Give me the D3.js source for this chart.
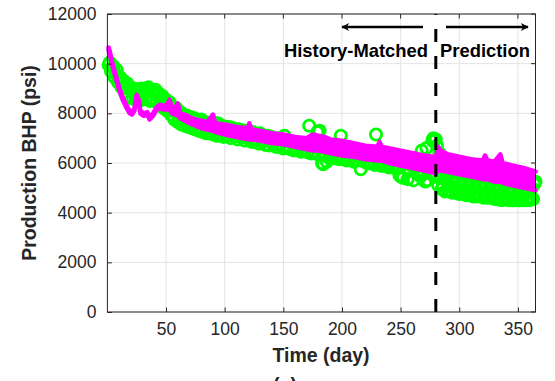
<!DOCTYPE html>
<html>
<head>
<meta charset="utf-8">
<script src="https://cdn.jsdelivr.net/npm/d3@7"></script>
<style>
  html, body { margin: 0; padding: 0; background: #fff; }
  svg { display: block; }
  text { font-family: "Liberation Sans", Arial, sans-serif; fill: #262626; }
</style>
</head>
<body>
<svg id="chart" width="555" height="381"></svg>
<script>
// ---------- data ----------
const xTicks = [50, 100, 150, 200, 250, 300, 350];
const yTicks = [0, 2000, 4000, 6000, 8000, 10000, 12000];
const splitDay = 280;

// observed BHP (green circles), three interleaved day sets
const obsDaysA = [1,4,7,10,13,16,19,22,25,28,31,34,37,40,43,46,49,52,55,58,61,64,67,70,73,76,79,82,85,88,91,94,97,100,
  103,106,109,112,115,118,121,124,127,130,133,136,139,142,145,148,151,154,157,160,163,166,169,172,175,178,181,184,187,190,
  193,196,199,202,205,208,211,214,217,220,223,226,229,232,235,238,241,244,247,250,253,256,259,262,265,268,271,274,277,280,
  283,286,289,292,295,298,301,304,307,310,313,316,319,322,325,328,331,334,337,340,343,346,349,352,355,358,361,364];
const obsBHPA = [9950,9850,9600,9400,9250,9050,8950,8800,8650,8900,8750,8950,8600,8850,8700,8500,8550,8250,8100,8200,7800,7700,7900,7650,7500,7750,7450,7650,7400,7550,7350,7600,7300,7450,
  7250,7400,7200,7350,7100,7300,7050,7250,6950,7200,6900,7050,6850,7000,6750,6950,7100,6700,6850,6600,6750,6550,6700,7500,6450,6650,7300,5950,6050,6550,
  6350,6250,7100,6500,6200,6400,6100,6350,6150,6300,6050,6250,7150,6200,6000,6150,5950,6100,5850,5450,6000,5350,5900,6050,5550,6500,5250,5900,6900,6950,
  6400,5100,5300,5050,5250,4950,5150,4900,5100,4850,5050,4800,5000,4750,4950,4700,4900,4650,4850,4600,4800,4500,4750,4500,4700,4550,4600,5150];

const obsDaysB = [2,5,8,11,14,17,20,23,26,29,32,35,38,41,44,47,50,53,56,59,62,65,68,71,74,77,80,83,86,89,92,95,98,101,
  104,107,110,113,116,119,122,125,128,131,134,137,140,143,146,149,152,155,158,161,164,167,170,173,176,179,182,185,188,191,
  194,197,200,203,206,209,212,215,218,221,224,227,230,233,236,239,242,245,248,251,254,257,260,263,266,269,272,275,278,281,
  284,287,290,293,296,299,302,305,308,311,314,317,320,323,326,329,332,335,338,341,344,347,350,353,356,359,362,365];
const obsBHPB = [10050,9900,9750,9450,9300,9200,8950,9000,8900,9000,8950,9050,8900,8950,8800,8700,8550,8450,8250,8200,8050,7950,7900,7850,7800,7700,7750,7650,7600,7550,7600,7500,7500,7450,
  7450,7400,7350,7350,7300,7250,7250,7200,7150,7150,7100,7100,7050,7000,7000,6950,6900,6900,6850,6850,6800,6800,6750,6700,6700,7250,6650,6600,6600,6550,
  6550,6500,6500,6450,6450,6400,6400,6350,6350,6300,6300,6250,6250,6250,6200,6200,6150,6150,6100,6100,6050,6050,6000,6000,6000,5950,6600,5950,7000,6700,
  5450,5350,5300,5300,5250,5250,5200,5200,5150,5150,5100,5100,5050,5050,5000,5000,4950,4950,4950,4900,4900,4900,4850,4850,4900,4950,5000,5250];

const obsDaysC = [3,6,9,12,15,18,21,24,27,30,33,36,39,42,45,48,51,54,57,60,63,66,69,72,75,78,81,84,87,90,93,96,99,102,
  105,108,111,114,117,120,123,126,129,132,135,138,141,144,147,150,153,156,159,162,165,168,171,174,177,180,183,186,189,192,
  195,198,201,204,207,210,213,216,219,222,225,228,231,234,237,240,243,246,249,252,255,258,261,264,267,270,273,276,279,282,
  285,288,291,294,297,300,303,306,309,312,315,318,321,324,327,330,333,336,339,342,345,348,351,354,357,360,363];
const obsBHPC = [9700,9450,9250,9050,8850,8700,8600,8550,8500,8550,8600,8500,8500,8450,8350,8200,8100,7950,7750,7650,7550,7500,7450,7400,7350,7300,7250,7200,7200,7150,7100,7100,7050,7100,
  7000,7080,6950,7020,6900,6980,6850,6880,6780,6850,6720,6700,6760,6640,6700,6580,6620,6550,6500,6580,6450,6500,6420,6380,6450,6330,6000,6300,6200,6280,
  6180,6150,6220,6100,6150,6050,6100,5750,6050,5980,6020,5920,5950,5880,5900,5820,5850,5780,5500,5400,5750,5700,5300,5650,5450,5600,5300,5550,5450,5100,
  4950,4850,4850,4800,4800,4750,4750,4700,4700,4650,4650,4650,4600,4600,4600,4550,4550,4500,4550,4500,4500,4500,4500,4500,4500,4500,4550];

// simulated BHP (magenta band): upper and lower envelopes
const simDays  = [1,2,4,7,10,13,16,19,21,23,25,27,28,31,34,36,39,42,45,48,51,53,55,58,60,62,66,70,75,80,85,90,92,100,110,120,121,123,130,140,150,160,170,175,180,185,190,200,210,220,230,232,234,240,250,260,270,278,280,282,284,290,300,310,320,322,324,330,335,337,345,355,365];
const simUpper = [10650,10500,10050,9550,9050,8650,8350,8100,8050,8200,8750,8500,8100,8000,8050,7850,8000,8250,8350,8300,8350,8550,8200,8250,8400,8000,7950,7850,7750,7700,7650,7950,7600,7550,7450,7400,7600,7350,7300,7200,7150,7050,7000,7150,7100,7050,6950,6900,6800,6700,6650,6850,6650,6600,6500,6400,6300,6250,6200,6650,6500,6350,6250,6150,6100,6300,6100,6050,6350,6000,5900,5800,5650];
const simLower = [10550,10400,9950,9450,8950,8550,8250,8000,7950,8100,8650,8400,8000,7900,7950,7750,7900,8150,8200,8150,8150,8150,8000,7950,7900,7800,7700,7600,7500,7400,7350,7300,7250,7150,7050,6950,6950,6950,6900,6800,6750,6650,6550,6500,6500,6450,6400,6300,6250,6150,6100,6100,6100,6000,5900,5800,5700,5600,5550,5750,5700,5650,5550,5450,5350,5350,5350,5250,5250,5200,5100,5000,4900];

// ---------- layout ----------
const svg = d3.select("#chart");
const L = 107.4, R = 535.5, T = 14, B = 312;
const x = d3.scaleLinear().domain([0, 365]).range([L, R]);
const y = d3.scaleLinear().domain([0, 12000]).range([B, T]);
const axisColor = "#262626";

// grid
const grid = svg.append("g");
xTicks.forEach(t => grid.append("line").attr("x1", x(t)).attr("x2", x(t)).attr("y1", T).attr("y2", B)
  .attr("stroke", "#e3e3e3").attr("stroke-width", 1));
yTicks.forEach(t => grid.append("line").attr("x1", L).attr("x2", R).attr("y1", y(t)).attr("y2", y(t))
  .attr("stroke", "#e3e3e3").attr("stroke-width", 1));

// observed circles
const obsPts = [];
[[obsDaysA, obsBHPA], [obsDaysB, obsBHPB], [obsDaysC, obsBHPC]].forEach(([ds, vs]) =>
  ds.forEach((d, i) => obsPts.push({d, v: vs[i]})));
obsPts.sort((a, b) => a.d - b.d);
svg.append("g").selectAll("circle").data(obsPts).join("circle")
  .attr("cx", p => x(p.d)).attr("cy", p => y(p.v)).attr("r", 5.6)
  .attr("fill", "none").attr("stroke", "#00ff00").attr("stroke-width", 2.8);

// simulated band
const simPts = simDays.map((d, i) => ({d, hi: simUpper[i], lo: simLower[i]}));
svg.append("path").datum(simPts)
  .attr("d", d3.area().x(p => x(p.d)).y0(p => y(p.lo)).y1(p => y(p.hi)))
  .attr("fill", "#ff00ff");
["hi", "lo"].forEach(k => {
  svg.append("path").datum(simPts)
    .attr("d", d3.line().x(p => x(p.d)).y(p => y(p[k])))
    .attr("fill", "none").attr("stroke", "#ff00ff").attr("stroke-width", 4.5)
    .attr("stroke-linejoin", "round").attr("stroke-linecap", "round");
});

// dashed split line
svg.append("line").attr("x1", x(splitDay)).attr("x2", x(splitDay)).attr("y1", B).attr("y2", T)
  .attr("stroke", "#000").attr("stroke-width", 3).attr("stroke-dasharray", "13,14");

// axes box
svg.append("rect").attr("x", L).attr("y", T).attr("width", R - L).attr("height", B - T)
  .attr("fill", "none").attr("stroke", axisColor).attr("stroke-width", 1);

// axes ticks (inward)
const xAxisG = svg.append("g").attr("transform", `translate(0,${B})`)
  .call(d3.axisBottom(x).tickValues(xTicks).tickFormat(d3.format("d")).tickSizeInner(-4.5).tickSizeOuter(0).tickPadding(11));
const yAxisG = svg.append("g").attr("transform", `translate(${L},0)`)
  .call(d3.axisLeft(y).tickValues(yTicks).tickFormat(d3.format("d")).tickSizeInner(-4.5).tickSizeOuter(0).tickPadding(11));
[xAxisG, yAxisG].forEach(g => {
  g.select(".domain").remove();
  g.selectAll(".tick line").attr("stroke", axisColor);
  g.selectAll(".tick text").attr("fill", axisColor)
    .style("font-size", "17.5px").style("font-family", "'Liberation Sans', Arial, sans-serif");
});
// top and right ticks
xTicks.forEach(t => svg.append("line").attr("x1", x(t)).attr("x2", x(t)).attr("y1", T).attr("y2", T + 4.5)
  .attr("stroke", axisColor));
yTicks.forEach(t => svg.append("line").attr("x1", R).attr("x2", R - 4.5).attr("y1", y(t)).attr("y2", y(t))
  .attr("stroke", axisColor));

// axis labels
svg.append("text").attr("x", 321).attr("y", 362).attr("text-anchor", "middle")
  .style("font-size", "19.5px").style("font-weight", "bold").text("Time (day)");
svg.append("text").attr("transform", `translate(36,${(T + B) / 2}) rotate(-90)`).attr("text-anchor", "middle")
  .style("font-size", "19.5px").style("font-weight", "bold").text("Production BHP (psi)");
svg.append("text").attr("x", 285).attr("y", 392).attr("text-anchor", "middle")
  .style("font-size", "19.5px").style("font-weight", "bold").text("(a)");

// annotations
svg.append("text").attr("x", 428).attr("y", 57).attr("text-anchor", "end")
  .style("font-size", "18.4px").style("font-weight", "bold").style("fill", "#000").text("History-Matched");
svg.append("text").attr("x", 440).attr("y", 57).attr("text-anchor", "start")
  .style("font-size", "18.4px").style("font-weight", "bold").style("fill", "#000").text("Prediction");

// arrows
const defs = svg.append("defs");
defs.append("marker").attr("id", "ah").attr("viewBox", "0 0 10 10").attr("refX", 9).attr("refY", 5)
  .attr("markerWidth", 11).attr("markerHeight", 8).attr("markerUnits", "userSpaceOnUse").attr("orient", "auto")
  .append("path").attr("d", "M0,0 L10,5 L0,10 L3,5 Z").attr("fill", "#000");
svg.append("line").attr("x1", 423).attr("x2", 342).attr("y1", 27).attr("y2", 27)
  .attr("stroke", "#000").attr("stroke-width", 2.5).attr("marker-end", "url(#ah)");
svg.append("line").attr("x1", 446).attr("x2", 528).attr("y1", 27).attr("y2", 27)
  .attr("stroke", "#000").attr("stroke-width", 2.5).attr("marker-end", "url(#ah)");
</script>
</body>
</html>
